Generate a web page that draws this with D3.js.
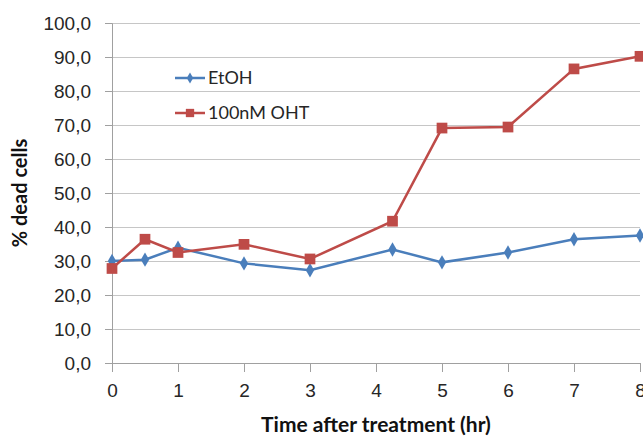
<!DOCTYPE html>
<html>
<head>
<meta charset="utf-8">
<script src="https://cdn.jsdelivr.net/npm/d3@7"></script>
<style>
    body { margin: 0; background: #fff; }
    svg { display: block; font-family: Lato, "Open Sans", sans-serif; }
</style>
</head>
<body>
<div id="chart"></div>
<script>
// Data
var hours = [0, 0.5, 1, 2, 3, 4.25, 5, 6, 7, 8];
var etohValues = [30.0, 30.4, 33.9, 29.3, 27.3, 33.4, 29.6, 32.5, 36.4, 37.5];
var ohtValues = [27.8, 36.4, 32.5, 34.9, 30.6, 41.7, 69.1, 69.4, 86.5, 90.2];
var seriesNames = ["EtOH", "100nM OHT"];
var xTicks = [0, 1, 2, 3, 4, 5, 6, 7, 8];
var yTicks = [0, 10, 20, 30, 40, 50, 60, 70, 80, 90, 100];

// Chart parameters
var properties = {
    width: 643,
    height: 436,
    margin: { top: 23, right: 3, bottom: 73, left: 112 }
};

var chartDimensions = {
    width: properties.width - properties.margin.left - properties.margin.right,
    height: properties.height - properties.margin.top - properties.margin.bottom
};

var colors = { "EtOH": "#4a7ebb", "100nM OHT": "#be4b48" };

var svg = d3.select("#chart")
    .append("svg")
    .attr("width", properties.width)
    .attr("height", properties.height);

var chartContent = svg.append("g")
    .attr("transform", "translate(" + properties.margin.left + "," + properties.margin.top + ")");

var xScale = d3.scaleLinear().domain([0, 8]).range([0, chartDimensions.width]);
var yScale = d3.scaleLinear().domain([0, 100]).range([chartDimensions.height, 0]);

var fmt = function (d) { return d.toFixed(1).replace(".", ","); };

// Gridlines
chartContent.append("g")
    .selectAll("line")
    .data(yTicks.filter(function (d) { return d > 0; }))
    .enter()
    .append("line")
    .attr("x1", 0)
    .attr("x2", chartDimensions.width)
    .attr("y1", function (d) { return yScale(d) + 0.5; })
    .attr("y2", function (d) { return yScale(d) + 0.5; })
    .attr("stroke", "#c6c6c6")
    .attr("stroke-width", 1);

// Y axis
var yAxis = chartContent.append("g")
    .attr("class", "y axis")
    .call(d3.axisLeft(yScale).tickValues(yTicks).tickFormat(fmt).tickSize(7).tickPadding(14));

// X axis
var xAxis = chartContent.append("g")
    .attr("class", "x axis")
    .attr("transform", "translate(0," + chartDimensions.height + ")")
    .call(d3.axisBottom(xScale).tickValues(xTicks).tickFormat(d3.format("d")).tickSize(9).tickPadding(8));

[yAxis, xAxis].forEach(function (ax) {
    ax.select(".domain").attr("stroke", "#a0a0a0");
    ax.selectAll(".tick line").attr("stroke", "#a0a0a0");
    ax.selectAll("text")
        .attr("fill", "#262626")
        .style("font-size", "19px");
});
xAxis.selectAll(".tick text").attr("dy", "0.9em");

// Axis titles
svg.append("text")
    .attr("x", properties.margin.left + xScale(4))
    .attr("y", 432)
    .attr("text-anchor", "middle")
    .attr("font-weight", "bold")
    .attr("font-size", 21)
    .attr("fill", "#111")
    .text("Time after treatment (hr)");

svg.append("text")
    .attr("transform", "translate(27," + (properties.margin.top + yScale(50)) + ") rotate(-90)")
    .attr("text-anchor", "middle")
    .attr("font-weight", "bold")
    .attr("font-size", 20)
    .attr("fill", "#111")
    .text("% dead cells");

// Series
var series = [
    { name: seriesNames[0], values: etohValues, shape: d3.symbolDiamond, size: 60 },
    { name: seriesNames[1], values: ohtValues, shape: d3.symbolSquare, size: 115 }
];

var line = d3.line()
    .x(function (d) { return xScale(d.x); })
    .y(function (d) { return yScale(d.y); });

series.forEach(function (s) {
    var points = hours.map(function (h, i) { return { x: h, y: s.values[i] }; });

    chartContent.append("path")
        .datum(points)
        .attr("fill", "none")
        .attr("stroke", colors[s.name])
        .attr("stroke-width", 2.5)
        .attr("d", line);

    chartContent.selectAll(".marker-" + s.name.replace(/\W/g, ""))
        .data(points)
        .enter()
        .append("path")
        .attr("transform", function (d) { return "translate(" + xScale(d.x) + "," + yScale(d.y) + ")"; })
        .attr("d", d3.symbol().type(s.shape).size(s.size))
        .attr("fill", colors[s.name]);
});

// Legend
var legend = svg.append("g")
    .selectAll(".legend-item")
    .data(series)
    .enter()
    .append("g")
    .attr("transform", function (d, i) { return "translate(175," + (78 + i * 35) + ")"; });

legend.append("line")
    .attr("x1", 0)
    .attr("x2", 30)
    .attr("stroke", function (d) { return colors[d.name]; })
    .attr("stroke-width", 2.5);

legend.append("path")
    .attr("transform", "translate(15,0)")
    .attr("d", function (d) { return d3.symbol().type(d.shape).size(d.size * 0.6)(); })
    .attr("fill", function (d) { return colors[d.name]; });

legend.append("text")
    .attr("x", 33)
    .attr("dy", "0.36em")
    .attr("font-size", 18)
    .attr("fill", "#262626")
    .text(function (d) { return d.name; });
</script>
</body>
</html>
